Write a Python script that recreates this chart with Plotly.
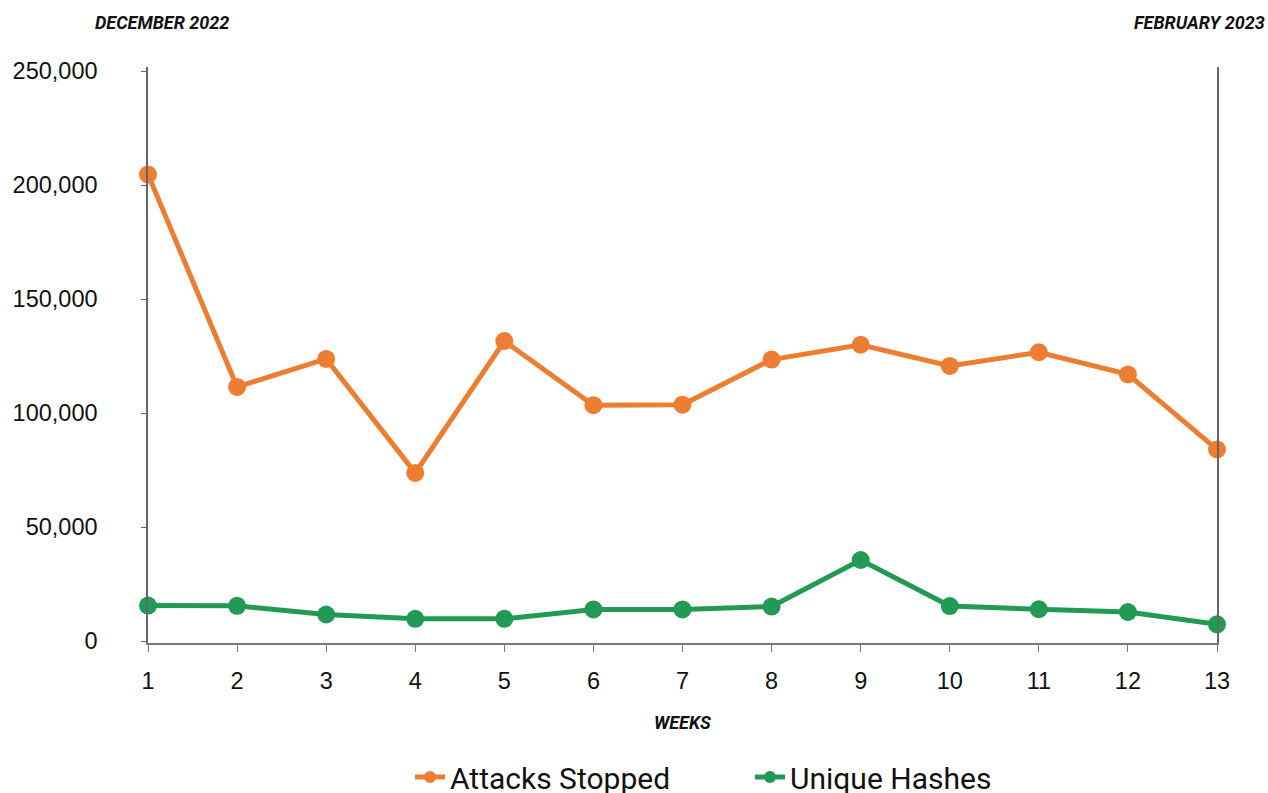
import plotly.graph_objects as go

weeks = list(range(1, 14))
attacks_stopped = [204700, 111500, 123800, 73800, 131600, 103500, 103700,
                   123500, 130000, 120700, 126700, 117000, 84100]
unique_hashes = [15600, 15500, 11700, 9800, 9800, 13900, 13900,
                 15200, 35600, 15400, 14000, 12800, 7400]
y_ticks = [0, 50000, 100000, 150000, 200000, 250000]

ORANGE = "#ED7D31"
GREEN = "#229954"

W, H = 1268, 793
L, R, T, B = 148, 51, 67, 150
pw = W - L - R
ph = H - T - B


def px(xp):
    return (xp - L) / pw


def py(yp):
    return (H - B - yp) / ph


fig = go.Figure()
fig.add_trace(go.Scatter(x=weeks, y=attacks_stopped, mode="lines+markers",
                         name="Attacks Stopped",
                         line=dict(color=ORANGE, width=5),
                         marker=dict(color=ORANGE, size=18), cliponaxis=False))
fig.add_trace(go.Scatter(x=weeks, y=unique_hashes, mode="lines+markers",
                         name="Unique Hashes",
                         line=dict(color=GREEN, width=5),
                         marker=dict(color=GREEN, size=18), cliponaxis=False))

fig.update_layout(
    width=W, height=H,
    margin=dict(l=L, r=R, t=T, b=B, autoexpand=False),
    plot_bgcolor="white", paper_bgcolor="white",
    showlegend=True,
    legend=dict(orientation="h", x=px(410), xanchor="left", y=py(777), yanchor="middle",
                font=dict(family="Roboto", size=30, color="#111"),
                entrywidth=295, entrywidthmode="pixels", itemsizing="constant"),
    xaxis=dict(range=[1, 13], tickvals=weeks, showgrid=False, zeroline=False,
               showline=True, linecolor="#777", linewidth=1.5,
               ticks="outside", ticklen=7, tickcolor="#777",
               ticklabelstandoff=9,
               tickfont=dict(family="Liberation Sans", size=23.5, color="#111")),
    yaxis=dict(range=[-800, 251800], tickvals=y_ticks,
               ticktext=[f"{v:,}" for v in y_ticks],
               showgrid=False, zeroline=False,
               showline=True, linecolor="#666", linewidth=1.5, mirror=True,
               ticks="outside", ticklen=5, tickcolor="#666",
               ticklabelstandoff=39,
               tickfont=dict(family="Liberation Sans", size=23.5, color="#111")),
    annotations=[
        dict(text="<b><i>DECEMBER 2022</i></b>", x=px(93), y=py(22), xref="paper", yref="paper",
             showarrow=False, xanchor="left", yanchor="middle",
             font=dict(family="Roboto", size=18, color="#111")),
        dict(text="<b><i>FEBRUARY 2023</i></b>", x=px(1267), y=py(22), xref="paper", yref="paper",
             showarrow=False, xanchor="right", yanchor="middle",
             font=dict(family="Roboto", size=18, color="#111")),
        dict(text="<b><i>WEEKS</i></b>", x=px(682), y=py(722), xref="paper", yref="paper",
             showarrow=False, xanchor="center", yanchor="middle",
             font=dict(family="Roboto", size=18, color="#111")),
    ],
)

fig.write_html("out.html", config={"displayModeBar": False},
               post_script="document.body.style.margin='0';document.body.style.overflow='hidden';")
